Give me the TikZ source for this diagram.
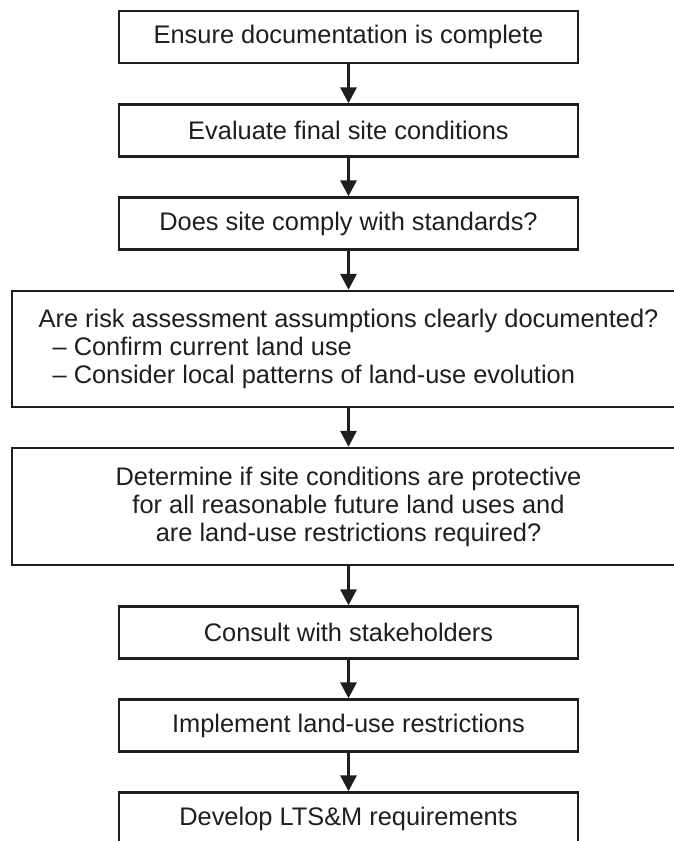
\documentclass[tikz,border=0pt]{standalone}
\usepackage{fontspec}
\setmainfont{Liberation Sans}
\usetikzlibrary{arrows.meta}
\definecolor{ink}{HTML}{1E1E1E}
\begin{document}
\begin{tikzpicture}[x=1pt,y=-1pt,
  stepbox/.style={draw=ink, line width=2.4pt, rectangle, text=ink, inner sep=0pt,
    font=\fontsize{25.4}{28}\selectfont, minimum width=459pt, minimum height=52pt},
  widebox/.style={stepbox, minimum width=673pt, minimum height=116pt},
  arr/.style={draw=ink, line width=3.2pt, -{Triangle[width=16pt,length=16pt]}}]
\useasboundingbox (0,0) rectangle (674,841);
\clip (0,0) rectangle (674,841);
\node[stepbox] (b1) at (348.5,37) {Ensure documentation is complete};
\node[stepbox] (b2) at (348.5,130.5) {Evaluate final site conditions};
\node[stepbox] (b3) at (348.5,223.5) {Does site comply with standards?};
\node[widebox, align=left] (b4) at (348.5,349) {Are risk assessment assumptions clearly documented?\\
\hspace*{14pt}– Confirm current land use\\
\hspace*{14pt}– Consider local patterns of land-use evolution};
\node[widebox, minimum height=117pt, align=center] (b5) at (348.5,506.5) {Determine if site conditions are protective\\
for all reasonable future land uses and\\
are land-use restrictions required?};
\node[stepbox] (b6) at (348.5,632.5) {Consult with stakeholders};
\node[stepbox] (b7) at (348.5,725.5) {Implement land-use restrictions};
\node[stepbox] (b8) at (348.5,818.5) {Develop LTS\&M requirements};
\draw[arr] (b1) -- (b2);
\draw[arr] (b2) -- (b3);
\draw[arr] (b3) -- (b4);
\draw[arr] (b4) -- (b5);
\draw[arr] (b5) -- (b6);
\draw[arr] (b6) -- (b7);
\draw[arr] (b7) -- (b8);
\end{tikzpicture}
\end{document}
